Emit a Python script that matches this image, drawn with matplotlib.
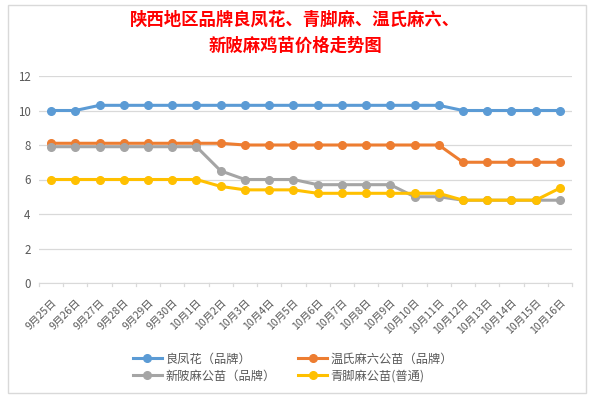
import matplotlib.pyplot as plt
from matplotlib.patches import Rectangle

plt.rcParams['font.family'] = ['Noto Sans CJK SC', 'DejaVu Sans']

# --- data ---
dates = ['9月25日', '9月26日', '9月27日', '9月28日', '9月29日', '9月30日',
         '10月1日', '10月2日', '10月3日', '10月4日', '10月5日', '10月6日',
         '10月7日', '10月8日', '10月9日', '10月10日', '10月11日', '10月12日',
         '10月13日', '10月14日', '10月15日', '10月16日']
liangfenghua = [10.0, 10.0, 10.3, 10.3, 10.3, 10.3, 10.3, 10.3, 10.3, 10.3, 10.3,
                10.3, 10.3, 10.3, 10.3, 10.3, 10.3, 10.0, 10.0, 10.0, 10.0, 10.0]
wenshi = [8.1, 8.1, 8.1, 8.1, 8.1, 8.1, 8.1, 8.1, 8.0, 8.0, 8.0,
          8.0, 8.0, 8.0, 8.0, 8.0, 8.0, 7.0, 7.0, 7.0, 7.0, 7.0]
xinpo = [7.9, 7.9, 7.9, 7.9, 7.9, 7.9, 7.9, 6.5, 6.0, 6.0, 6.0,
         5.7, 5.7, 5.7, 5.7, 5.0, 5.0, 4.8, 4.8, 4.8, 4.8, 4.8]
qingjiao = [6.0, 6.0, 6.0, 6.0, 6.0, 6.0, 6.0, 5.6, 5.4, 5.4, 5.4,
            5.2, 5.2, 5.2, 5.2, 5.2, 5.2, 4.8, 4.8, 4.8, 4.8, 5.5]

series = [
    ('良凤花（品牌）', liangfenghua, '#5B9BD5'),
    ('温氏麻六公苗（品牌）', wenshi, '#ED7D31'),
    ('新陂麻公苗（品牌）', xinpo, '#A5A5A5'),
    ('青脚麻公苗(普通)', qingjiao, '#FFC000'),
]

fig = plt.figure(figsize=(5.9, 3.99), dpi=100)

# chart area frame (spreadsheet look)
fig.patches.append(Rectangle((8 / 590, 6 / 399), 578 / 590, 388 / 399,
                             transform=fig.transFigure, facecolor='white',
                             edgecolor='#D9D9D9', linewidth=1, zorder=-5))

ax = fig.add_axes([39 / 590, 1 - 283 / 399, (572 - 39) / 590, (283 - 76) / 399])
ax.set_facecolor('none')

x = list(range(len(dates)))
handles = {}
for name, vals, color in series:
    h, = ax.plot(x, vals, color=color, lw=2.2, marker='o', markersize=5.5, label=name)
    handles[name] = h

ax.set_xlim(-0.5, len(dates) - 0.5)
ax.set_ylim(0, 12)
ax.set_yticks(range(0, 13, 2))
ax.set_xticks(x)
ax.set_xticklabels(dates, rotation=45, ha='right', rotation_mode='anchor',
                   fontsize=7.6, color='#595959')
ax.tick_params(axis='y', length=0, labelsize=8.3, labelcolor='#595959', pad=6)
ax.tick_params(axis='x', length=0, pad=10)
ax.grid(axis='y', color='#D9D9D9', lw=0.9)
ax.set_axisbelow(True)
for s in ['top', 'right', 'left']:
    ax.spines[s].set_visible(False)
ax.spines['bottom'].set_color('#D9D9D9')

# small tick marks between categories like Excel
for i in range(len(dates) + 1):
    ax.plot([i - 0.5, i - 0.5], [0, -0.15], color='#D9D9D9', lw=0.9, clip_on=False)

fig.text(0.5, 1 - 20 / 399, '陕西地区品牌良凤花、青脚麻、温氏麻六、', ha='center', va='center',
         color='red', fontsize=12.5, fontweight='bold')
fig.text(0.5, 1 - 46 / 399, '新陂麻鸡苗价格走势图', ha='center', va='center',
         color='red', fontsize=12.5, fontweight='bold')

# legend order so rows read: 良凤花 / 温氏 then 新陂 / 青脚
order = ['良凤花（品牌）', '新陂麻公苗（品牌）', '温氏麻六公苗（品牌）', '青脚麻公苗(普通)']
fig.legend(handles=[handles[n] for n in order], loc='center',
           bbox_to_anchor=(293 / 590, 1 - 367.5 / 399),
           ncol=2, frameon=False, fontsize=8.8, columnspacing=1.9, handlelength=2.37,
           labelcolor='#595959', handletextpad=0.25, labelspacing=0.3)

fig.savefig('out.png', dpi=100)
